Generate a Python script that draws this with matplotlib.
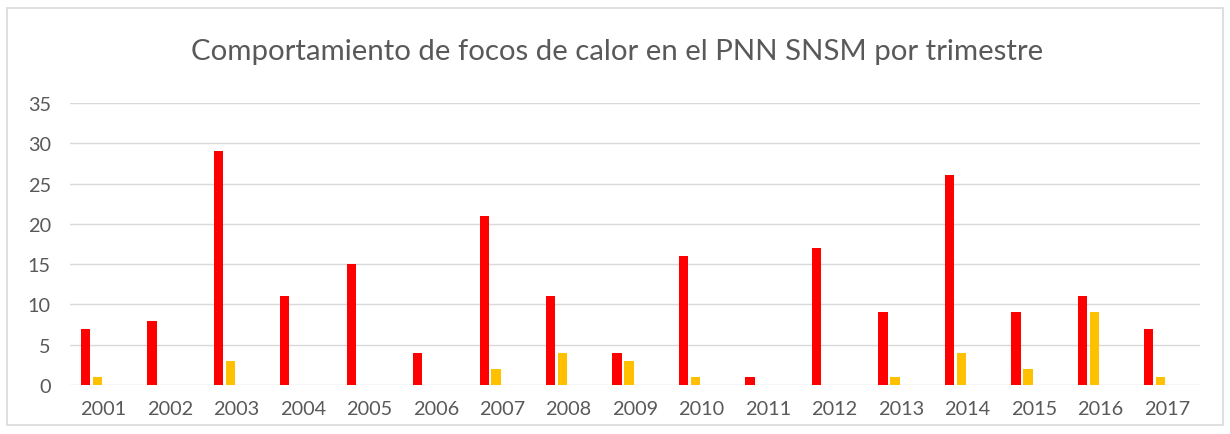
import numpy as np
import matplotlib.pyplot as plt
from matplotlib import rcParams
from matplotlib.patches import Rectangle

rcParams['font.family'] = ['Lato', 'DejaVu Sans']

years = ['2001', '2002', '2003', '2004', '2005', '2006', '2007', '2008', '2009',
         '2010', '2011', '2012', '2013', '2014', '2015', '2016', '2017']
trim1 = [7, 8, 29, 11, 15, 4, 21, 11, 4, 16, 1, 17, 9, 26, 9, 11, 7]
trim2 = [1, 0, 3, 0, 0, 0, 2, 4, 3, 1, 0, 0, 1, 4, 2, 9, 1]
trim3 = [0] * 17
trim4 = [0] * 17
series = [trim1, trim2, trim3, trim4]
colors = ['#FF0000', '#FFC000', '#A5A5A5', '#4472C4']

fig = plt.figure(figsize=(12.3, 4.35), dpi=100)
ax = fig.add_axes([0.057, 0.1126, 0.9186, 0.6484])

x = np.arange(len(years))
step = 0.18
for i, (vals, c) in enumerate(zip(series, colors)):
    ax.bar(x + (i - 1.5) * step, vals, width=0.14, color=c, zorder=3)

ax.set_xlim(-0.5, len(years) - 0.5)
ax.set_ylim(0, 35)
ax.set_yticks(range(0, 36, 5))
ax.set_xticks(x)
ax.set_xticklabels(years)
ax.tick_params(length=0, labelsize=14.3, labelcolor='#595959', pad=11)
ax.tick_params(axis='y', pad=14)
ax.grid(axis='y', color='#D9D9D9', linewidth=1, zorder=0)
for s in ax.spines.values():
    s.set_visible(False)

fig.text(0.502, 0.88, 'Comportamiento de focos de calor en el PNN SNSM por trimestre',
         ha='center', va='center', fontsize=21.2, color='#595959')

fig.patches.append(Rectangle((0.006, 0.02), 0.988, 0.96, transform=fig.transFigure,
                             fill=False, edgecolor='#D9D9D9', linewidth=1.2))

fig.savefig('out.png')
